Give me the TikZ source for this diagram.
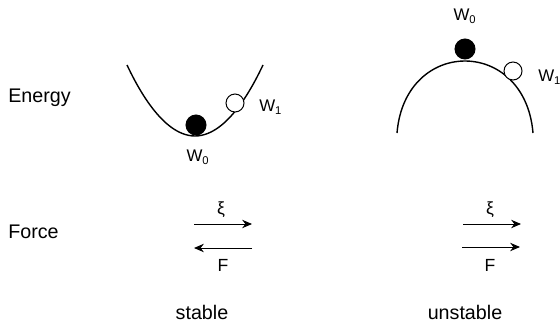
\documentclass[tikz,border=0pt]{standalone}
\usepackage{fontspec}
\setmainfont{Liberation Sans}
\usetikzlibrary{arrows.meta, positioning}

\begin{document}
\begin{tikzpicture}[
    x=0.025cm, y=-0.025cm,
    curve/.style={draw=black, line width=1pt},
    fullball/.style={circle, draw=black, fill=black, line width=0.7pt, inner sep=0pt, minimum size=0.5cm},
    emptyball/.style={circle, draw=black, fill=white, line width=0.7pt, inner sep=0pt, minimum size=0.45cm},
    rowlabel/.style={anchor=west, inner sep=0pt, font=\fontsize{14}{16}\selectfont},
    caption/.style={inner sep=0pt, font=\fontsize{14}{16}\selectfont},
    wlabel/.style={inner sep=0pt, font=\fontsize{12}{14}\selectfont},
    flabel/.style={inner sep=0pt, font=\fontsize{12.5}{14}\selectfont},
    arrow/.style={-{Stealth[length=7pt, width=6pt]}, line width=0.7pt}
]
    \useasboundingbox (0,0) rectangle (560,322);

    % Row labels
    \node[rowlabel] (energy) at (8,98) {Energy};
    \node[rowlabel] (force) at (8,232) {Force};

    % Stable: bowl with balls
    \draw[curve] (127,65) parabola bend (195,136) (263,65);
    \node[fullball] (stablezero) at (196,125) {};
    \node[emptyball] (stableone) at (235,103) {};
    \node[wlabel] (stablewzero) at (198,157) {W\textsubscript{0}};
    \node[wlabel, anchor=west] (stablewone) at (259,107) {W\textsubscript{1}};

    % Unstable: hill with balls
    \draw[curve] (397,133) .. controls (405,37) and (525,37) .. (533,133);
    \node[fullball] (unstablezero) at (465,49) {};
    \node[emptyball] (unstableone) at (513,71) {};
    \node[wlabel] (unstablewzero) at (465,16) {W\textsubscript{0}};
    \node[wlabel, anchor=west] (unstablewone) at (538,77) {W\textsubscript{1}};

    % Force arrows (stable)
    \coordinate (sxia) at (194,224);
    \coordinate (sxib) at (252,224);
    \coordinate (sfa) at (252,248);
    \coordinate (sfb) at (194,248);
    \draw[arrow] (sxia) -- (sxib);
    \draw[arrow] (sfa) -- (sfb);
    \node[flabel] (sxi) at (221,210) {ξ};
    \node[flabel] (sf) at (223,265) {F};

    % Force arrows (unstable)
    \coordinate (uxia) at (463,224);
    \coordinate (uxib) at (521,224);
    \coordinate (ufa) at (462,247);
    \coordinate (ufb) at (520,247);
    \draw[arrow] (uxia) -- (uxib);
    \draw[arrow] (ufa) -- (ufb);
    \node[flabel] (uxi) at (490,210) {ξ};
    \node[flabel] (uf) at (490,265) {F};

    % Captions
    \node[caption] (stable) at (202,312) {stable};
    \node[caption] (unstable) at (465,312) {unstable};
\end{tikzpicture}
\end{document}
